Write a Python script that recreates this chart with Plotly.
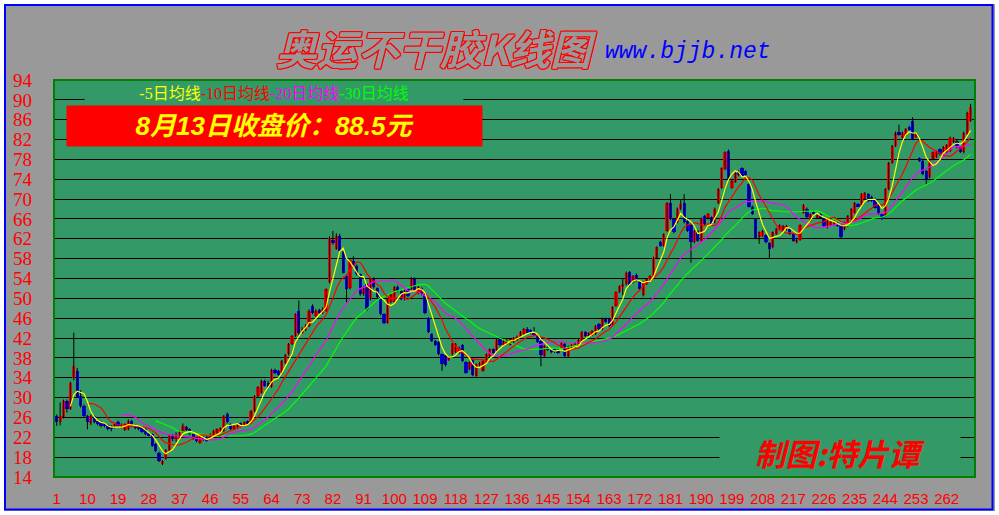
import plotly.graph_objects as go
import pandas as pd

# ---------------- data ----------------
opens = [
    26.2, 25.0, 26.0, 29.3, 27.7, 34.0, 35.4, 30.3, 28.3, 26.2,
    24.8, 26.2, 25.3, 25.0, 24.8, 24.4, 24.2, 24.0, 25.0, 24.5,
    23.5, 23.6, 25.3, 24.4, 24.2, 24.0, 23.6, 22.8, 22.6, 20.6,
    18.9, 16.6, 17.7, 19.2, 22.3, 21.6, 21.6, 23.0, 24.0, 23.6,
    23.0, 21.7, 20.9, 22.0, 22.1, 21.7, 22.4, 22.9, 23.3, 23.3,
    26.6, 24.6, 23.8, 24.0, 24.8, 24.4, 25.2, 25.0, 27.3, 30.3,
    31.0, 33.3, 33.0, 32.2, 35.6, 35.4, 34.9, 37.0, 38.7, 40.8,
    42.4, 47.5, 43.1, 43.6, 44.4, 48.4, 46.5, 47.6, 47.0, 47.5,
    53.2, 61.8, 60.0, 62.5, 59.4, 54.6, 52.0, 57.5, 56.5, 54.9,
    50.8, 52.8, 49.8, 53.9, 52.0, 50.2, 46.8, 45.1, 49.2, 49.2,
    52.2, 51.5, 49.8, 51.8, 51.8, 54.0, 51.0, 52.0, 50.8, 46.0,
    42.8, 41.4, 41.2, 38.7, 38.5, 37.6, 38.7, 39.2, 39.0, 40.6,
    37.1, 35.7, 37.7, 34.4, 36.5, 35.4, 37.2, 38.4, 39.7, 39.4,
    41.9, 40.6, 40.8, 40.7, 41.2, 41.6, 42.3, 42.8, 43.9, 43.6,
    43.2, 42.6, 41.4, 38.4, 40.2, 39.7, 39.8, 39.6, 39.7, 40.8,
    38.3, 39.8, 40.2, 40.4, 41.4, 43.2, 42.4, 42.6, 42.8, 44.8,
    43.8, 45.9, 45.9, 44.6, 48.5, 51.3, 52.2, 52.8, 55.3, 53.2,
    54.8, 53.2, 50.6, 52.9, 53.8, 54.5, 58.2, 61.4, 60.6, 63.6,
    69.2, 66.0, 65.3, 68.0, 69.3, 65.6, 64.9, 61.3, 63.6, 61.6,
    66.6, 66.1, 66.3, 65.3, 69.2, 72.3, 76.0, 79.6, 72.3, 73.5,
    75.4, 76.2, 75.6, 73.0, 68.5, 66.0, 62.3, 62.6, 62.7, 61.1,
    60.3, 63.0, 63.9, 63.8, 63.9, 64.0, 62.9, 61.3, 61.8, 67.3,
    68.1, 65.6, 67.5, 66.2, 66.9, 66.0, 64.3, 64.8, 64.9, 65.2,
    64.7, 63.9, 64.6, 66.0, 67.3, 69.0, 68.6, 70.0, 71.0, 70.5,
    70.0, 68.8, 67.0, 66.6, 72.0, 77.3, 80.7, 83.6, 82.4, 82.8,
    84.6, 85.8, 82.5, 78.2, 77.7, 75.7, 74.4, 78.0, 78.5, 80.0,
    79.2, 79.4, 79.7, 81.5, 81.7, 80.5, 79.4, 83.1, 85.8,
]
closes = [
    25.0, 26.2, 29.3, 27.7, 32.9, 36.4, 30.2, 28.3, 26.2, 25.0,
    26.2, 25.0, 24.6, 24.3, 24.2, 23.6, 23.6, 24.6, 24.2, 24.2,
    24.6, 25.3, 24.3, 23.8, 23.6, 23.1, 22.6, 22.4, 20.3, 19.2,
    17.2, 17.2, 19.4, 22.2, 21.6, 22.4, 23.0, 24.3, 23.6, 22.6,
    21.7, 21.2, 22.2, 21.6, 21.3, 22.6, 23.3, 23.6, 23.8, 26.3,
    25.0, 23.6, 24.2, 24.6, 24.4, 25.0, 24.6, 27.3, 30.3, 32.1,
    33.3, 32.4, 32.2, 35.6, 34.9, 34.6, 37.4, 38.6, 40.8, 42.4,
    46.8, 43.1, 43.8, 44.5, 47.5, 47.0, 47.5, 47.0, 47.9, 51.8,
    62.1, 61.1, 62.5, 59.6, 55.2, 51.8, 57.8, 56.5, 54.9, 50.8,
    52.2, 47.8, 54.0, 52.2, 50.2, 46.8, 45.1, 49.8, 50.8, 52.2,
    51.5, 49.8, 51.5, 50.5, 54.0, 51.5, 52.2, 50.8, 47.0, 43.2,
    41.4, 40.6, 38.7, 36.7, 36.5, 38.2, 40.8, 40.8, 40.0, 37.4,
    35.0, 37.1, 34.5, 36.7, 37.0, 37.4, 38.7, 39.7, 39.0, 41.6,
    40.7, 41.4, 41.6, 41.8, 42.0, 42.3, 43.2, 43.8, 43.1, 43.0,
    42.8, 41.2, 38.5, 40.4, 39.6, 39.1, 39.2, 39.0, 41.1, 38.3,
    40.3, 40.6, 40.9, 41.6, 43.2, 42.4, 43.0, 43.4, 44.4, 43.8,
    45.9, 45.3, 44.4, 48.2, 51.2, 52.4, 52.8, 55.2, 52.6, 54.5,
    53.6, 51.8, 53.2, 53.9, 54.5, 58.2, 60.3, 60.6, 62.9, 69.2,
    66.0, 63.3, 68.1, 69.0, 65.3, 63.6, 61.3, 63.6, 61.6, 66.1,
    64.9, 67.0, 64.9, 68.1, 72.0, 76.2, 79.4, 74.0, 73.7, 75.2,
    74.8, 74.6, 74.8, 68.5, 67.0, 62.1, 63.3, 63.6, 61.3, 60.0,
    63.3, 64.0, 64.7, 64.6, 64.6, 63.0, 61.6, 61.8, 64.7, 68.8,
    66.3, 66.9, 67.0, 66.8, 66.2, 64.6, 65.6, 65.4, 65.5, 64.6,
    62.3, 65.3, 66.6, 68.0, 69.2, 68.6, 71.0, 71.2, 69.6, 69.6,
    68.3, 67.0, 66.0, 72.0, 77.3, 80.7, 83.4, 83.0, 83.4, 84.1,
    84.0, 82.1, 83.2, 77.7, 75.0, 74.0, 77.7, 79.4, 79.6, 79.0,
    80.5, 80.9, 82.4, 82.3, 80.4, 79.5, 83.4, 87.4, 88.5,
]
highs = [
    26.6, 29.0, 29.6, 29.6, 33.2, 43.1, 36.0, 31.5, 28.6, 26.5,
    26.6, 26.4, 25.6, 25.3, 25.0, 24.6, 24.4, 24.8, 25.4, 24.8,
    24.8, 25.6, 25.5, 24.6, 24.4, 24.2, 23.8, 23.0, 22.8, 20.8,
    19.1, 17.4, 19.6, 22.6, 22.6, 23.0, 23.4, 24.8, 24.3, 23.8,
    23.2, 22.0, 22.5, 22.2, 22.3, 22.8, 23.5, 23.8, 24.0, 26.5,
    27.0, 24.8, 24.5, 24.9, 25.0, 25.2, 25.4, 27.5, 30.5, 32.3,
    33.6, 33.6, 33.4, 35.8, 35.8, 35.6, 37.6, 38.8, 41.0, 42.6,
    47.0, 49.6, 44.2, 44.8, 47.8, 48.8, 47.8, 47.9, 48.2, 52.0,
    62.5, 63.6, 63.1, 63.0, 59.6, 54.8, 58.0, 58.5, 56.8, 55.0,
    52.5, 53.0, 54.2, 54.2, 52.2, 50.4, 47.0, 50.0, 51.0, 52.5,
    52.6, 51.8, 51.8, 52.0, 54.3, 54.2, 52.5, 52.2, 51.0, 46.2,
    43.0, 41.6, 41.4, 38.9, 38.7, 38.4, 41.0, 41.0, 40.3, 40.8,
    37.3, 37.3, 37.9, 36.9, 37.2, 37.6, 38.9, 39.9, 39.9, 41.8,
    42.2, 41.6, 41.8, 42.0, 42.2, 42.5, 43.4, 44.0, 44.2, 43.8,
    44.2, 42.8, 41.6, 40.6, 40.4, 39.9, 40.0, 39.8, 41.3, 41.0,
    40.5, 40.8, 41.1, 41.8, 43.4, 43.4, 43.2, 43.6, 44.6, 45.0,
    46.1, 46.1, 46.1, 48.4, 51.4, 52.6, 54.0, 55.4, 55.5, 54.7,
    55.0, 53.4, 53.4, 54.1, 54.7, 58.4, 60.5, 61.6, 63.1, 69.4,
    71.0, 66.2, 68.3, 70.0, 71.0, 65.8, 65.1, 63.8, 63.8, 66.3,
    66.8, 67.2, 66.5, 68.3, 72.2, 76.4, 79.6, 80.0, 73.9, 75.4,
    75.8, 76.4, 75.8, 73.2, 68.7, 66.2, 63.5, 63.8, 62.9, 61.3,
    63.5, 64.2, 64.9, 64.8, 64.8, 64.2, 63.1, 62.0, 64.9, 69.0,
    68.3, 67.1, 67.7, 67.0, 67.1, 66.2, 65.8, 65.6, 65.7, 65.4,
    64.9, 65.5, 66.8, 68.2, 69.4, 69.2, 71.2, 71.4, 71.2, 70.7,
    70.2, 69.0, 67.2, 72.2, 77.5, 80.9, 83.6, 85.0, 83.6, 84.3,
    84.8, 86.5, 83.4, 78.4, 77.9, 75.9, 77.9, 79.6, 79.8, 80.2,
    80.7, 81.1, 82.6, 82.5, 81.9, 80.7, 83.6, 87.6, 89.2,
]
lows = [
    24.3, 24.4, 25.8, 27.0, 27.5, 33.5, 30.0, 28.0, 26.0, 23.6,
    24.5, 24.8, 24.4, 24.0, 24.0, 23.4, 23.2, 23.8, 24.0, 23.8,
    23.3, 23.4, 24.0, 23.6, 23.4, 22.9, 22.4, 22.2, 20.1, 19.0,
    17.0, 16.4, 17.5, 19.0, 21.2, 21.0, 21.4, 22.8, 23.3, 22.4,
    21.5, 21.0, 20.7, 21.3, 21.1, 21.5, 22.2, 22.7, 23.1, 23.1,
    24.8, 23.4, 23.5, 23.8, 24.2, 24.2, 24.4, 24.8, 27.1, 30.1,
    30.8, 32.2, 32.0, 32.0, 34.7, 34.4, 34.7, 36.8, 38.5, 40.6,
    42.2, 42.6, 42.9, 43.4, 44.2, 46.8, 46.2, 46.8, 46.8, 47.3,
    53.0, 60.8, 59.8, 59.4, 55.0, 49.2, 51.8, 56.2, 54.6, 50.5,
    50.5, 47.5, 49.6, 52.0, 50.0, 46.6, 44.8, 44.9, 49.0, 49.0,
    51.2, 49.6, 49.6, 50.2, 51.6, 51.3, 50.8, 50.6, 46.8, 43.0,
    41.2, 40.4, 38.5, 35.4, 36.3, 37.4, 38.5, 39.0, 38.8, 37.2,
    34.8, 35.5, 34.3, 34.2, 36.3, 35.2, 37.0, 38.2, 38.8, 39.2,
    40.3, 40.4, 40.6, 40.5, 41.0, 41.4, 42.1, 42.6, 42.9, 42.8,
    42.6, 41.0, 36.3, 38.2, 39.4, 38.9, 39.0, 38.8, 39.5, 38.1,
    38.1, 39.6, 40.0, 40.2, 41.2, 42.2, 42.2, 42.4, 42.6, 43.6,
    43.6, 45.1, 44.2, 44.4, 48.3, 51.1, 50.6, 52.6, 52.4, 53.0,
    53.4, 51.6, 50.4, 52.7, 53.6, 54.3, 58.0, 60.4, 60.4, 63.4,
    65.8, 63.1, 65.1, 67.8, 65.1, 63.4, 57.2, 61.1, 61.4, 61.4,
    64.7, 65.9, 64.7, 65.1, 69.0, 72.1, 75.8, 73.8, 72.1, 73.3,
    74.6, 74.4, 74.6, 68.3, 66.8, 61.9, 61.0, 62.4, 61.1, 58.0,
    60.1, 62.8, 63.7, 63.6, 63.7, 62.8, 61.4, 61.1, 61.6, 67.1,
    66.1, 65.4, 66.8, 66.0, 66.0, 64.4, 64.1, 64.6, 64.7, 64.4,
    62.1, 63.7, 64.4, 65.8, 67.1, 68.4, 68.4, 69.8, 69.4, 69.4,
    68.1, 66.8, 65.8, 66.4, 71.8, 77.1, 80.5, 82.8, 82.2, 82.6,
    83.8, 81.9, 82.3, 77.5, 74.8, 73.0, 74.2, 77.8, 78.3, 78.8,
    79.0, 79.2, 79.5, 81.3, 80.2, 79.3, 79.2, 82.9, 85.6,
]
days = list(range(1, len(closes) + 1))

x_tick_days = [1, 10, 19, 28, 37, 46, 55, 64, 73, 82, 91, 100, 109, 118, 127,
               136, 145, 154, 163, 172, 181, 190, 199, 208, 217, 226, 235, 244, 253, 262]
y_tick_prices = [14, 18, 22, 26, 30, 34, 38, 42, 46, 50, 54, 58, 62, 66, 70, 74, 78, 82, 86, 90, 94]

ma_periods = [5, 10, 20, 30]
ma_colors = ["#FFFF00", "#FF0000", "#FF00FF", "#00FF00"]
ma_labels = ["-5日均线", "-10日均线", "-20日均线", "-30日均线"]

title_text = "奥运不干胶K线图"
site_text = "www.bjjb.net"
close_note = "8月13日收盘价：88.5元"
credit_text = "制图:特片谭"

# ---------------- figure ----------------
W, H = 999, 515
ML, MR, MT, MB = 54, 24, 80, 38
PW, PH = W - ML - MR, H - MT - MB


def px(x):
    return (x - ML) / PW


def py(y):
    return (H - MB - y) / PH


fig = go.Figure()

# wicks (black)
wx, wy = [], []
for d, hi, lo in zip(days, highs, lows):
    wx += [d, d, None]
    wy += [lo, hi, None]
fig.add_trace(go.Scatter(x=wx, y=wy, mode="lines", line=dict(color="black", width=1),
                         hoverinfo="skip", showlegend=False))

# bodies
body_base = [min(o, c) for o, c in zip(opens, closes)]
body_len = [max(abs(c - o), 0.25) for o, c in zip(opens, closes)]
body_col = ["#FF0000" if c >= o else "#0000FF" for o, c in zip(opens, closes)]
fig.add_trace(go.Bar(x=days, y=body_len, base=body_base, width=0.95,
                     marker=dict(color=body_col, line=dict(width=0)),
                     showlegend=False))

# moving averages
s = pd.Series(closes)
for n, col in reversed(list(zip(ma_periods, ma_colors))):
    fig.add_trace(go.Scatter(x=days, y=s.rolling(n).mean(), mode="lines",
                             line=dict(color=col, width=1.2), showlegend=False))

legend_html = "".join(
    f"<span style='color:{c}'>{t}</span>" for t, c in zip(ma_labels, ma_colors)
)

outline = ("1px 0 #FF0000, -1px 0 #FF0000, 0 1px #FF0000, 0 -1px #FF0000, "
           "1px 1px #FF0000, -1px -1px #FF0000, 1px -1px #FF0000, -1px 1px #FF0000")

annotations = [
    dict(text=title_text, x=px(436), y=py(47), xref="paper", yref="paper",
         xanchor="center", yanchor="middle", showarrow=False,
         font=dict(family="Noto Sans CJK SC", size=41, color="#999999",
                   weight="bold", style="italic", shadow=outline)),
    dict(text=site_text, x=px(603), y=py(52), xref="paper", yref="paper",
         xanchor="left", yanchor="middle", showarrow=False,
         font=dict(family="Liberation Mono", size=23, color="#0000FF", style="italic")),
    dict(text=legend_html, x=px(274), y=py(93), xref="paper", yref="paper",
         xanchor="center", yanchor="middle", showarrow=False,
         width=378, height=20, bgcolor="#339966", borderpad=0,
         font=dict(family="Liberation Serif, Noto Sans CJK SC", size=16)),
    dict(text=close_note, x=px(274.5), y=py(126), xref="paper", yref="paper",
         xanchor="center", yanchor="middle", showarrow=False,
         width=413, height=38, bgcolor="#FF0000", borderpad=1,
         font=dict(family="Liberation Sans, Noto Sans CJK SC", size=26,
                   color="#FFFF00", weight="bold", style="italic")),
    dict(text=credit_text, x=px(840), y=py(452), xref="paper", yref="paper",
         xanchor="center", yanchor="middle", showarrow=False,
         width=240, height=42, bgcolor="#339966", borderpad=0,
         font=dict(family="Noto Sans CJK SC", size=31, color="#FF0000",
                   weight="bold", style="italic")),
]

shapes = [
    # plot frame
    dict(type="rect", xref="paper", yref="paper", x0=0, x1=1, y0=0, y1=1,
         line=dict(color="#008000", width=2), fillcolor="rgba(0,0,0,0)", layer="above"),
    # white outer margin
    dict(type="rect", xref="paper", yref="paper", x0=px(0), x1=px(W), y0=py(H), y1=py(0),
         line=dict(color="white", width=8), fillcolor="rgba(0,0,0,0)", layer="above"),
    # blue outer border
    dict(type="rect", xref="paper", yref="paper", x0=px(5), x1=px(992.5), y0=py(509.5), y1=py(5),
         line=dict(color="#0000FF", width=2), fillcolor="rgba(0,0,0,0)", layer="above"),
]

fig.update_layout(
    width=W, height=H,
    margin=dict(l=ML, r=MR, t=MT, b=MB, pad=0, autoexpand=False),
    paper_bgcolor="#999999",
    plot_bgcolor="#339966",
    showlegend=False,
    bargap=0,
    annotations=annotations,
    shapes=shapes,
    xaxis=dict(range=[0.2, 270.3], showgrid=False, zeroline=False, automargin=False,
               tickmode="array", tickvals=x_tick_days,
               ticktext=[str(v) for v in x_tick_days],
               ticks="", ticklabelstandoff=11,
               tickfont=dict(family="Liberation Sans", size=15, color="#FF0000"),
               showline=False, fixedrange=True),
    yaxis=dict(range=[14, 94], showgrid=True, gridcolor="black", gridwidth=1,
               zeroline=False, automargin=False, tickmode="array", tickvals=y_tick_prices,
               ticktext=[str(v) for v in y_tick_prices],
               ticks="", ticklabelstandoff=21,
               tickfont=dict(family="Liberation Serif", size=19, color="#FF0000"),
               showline=False, fixedrange=True),
)

fig.write_html("out.html", config={"displayModeBar": False},
               post_script="document.body.style.margin='0';document.body.style.overflow='hidden';")
